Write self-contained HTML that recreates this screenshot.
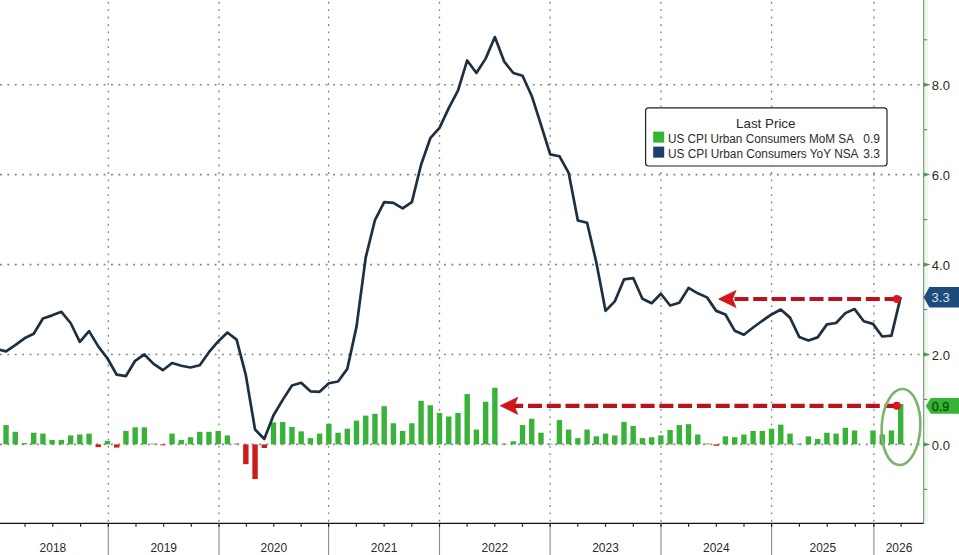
<!DOCTYPE html>
<html><head><meta charset="utf-8"><title>US CPI</title>
<style>
html,body{margin:0;padding:0;background:#fff;}
body{width:959px;height:555px;overflow:hidden;font-family:"Liberation Sans", sans-serif;}
svg{display:block;}
text{font-family:"Liberation Sans", sans-serif;}
</style></head>
<body>
<svg width="959" height="555" viewBox="0 0 959 555">
<rect width="959" height="555" fill="#fff"/>
<line x1="0" y1="84.7" x2="923" y2="84.7" stroke="#858585" stroke-width="1.6" stroke-dasharray="1.9 5.5"/>
<line x1="0" y1="174.6" x2="923" y2="174.6" stroke="#858585" stroke-width="1.6" stroke-dasharray="1.9 5.5"/>
<line x1="0" y1="264.6" x2="923" y2="264.6" stroke="#858585" stroke-width="1.6" stroke-dasharray="1.9 5.5"/>
<line x1="0" y1="354.5" x2="923" y2="354.5" stroke="#858585" stroke-width="1.6" stroke-dasharray="1.9 5.5"/>
<line x1="0" y1="444.4" x2="923" y2="444.4" stroke="#858585" stroke-width="1.6" stroke-dasharray="1.9 5.5"/>
<line x1="108.3" y1="-5.6" x2="108.3" y2="523" stroke="#858585" stroke-width="1.3" stroke-dasharray="1.9 5.5"/>
<line x1="219.0" y1="-5.6" x2="219.0" y2="523" stroke="#858585" stroke-width="1.3" stroke-dasharray="1.9 5.5"/>
<line x1="328.6" y1="-5.6" x2="328.6" y2="523" stroke="#858585" stroke-width="1.3" stroke-dasharray="1.9 5.5"/>
<line x1="439.5" y1="-5.6" x2="439.5" y2="523" stroke="#858585" stroke-width="1.3" stroke-dasharray="1.9 5.5"/>
<line x1="550.1" y1="-5.6" x2="550.1" y2="523" stroke="#858585" stroke-width="1.3" stroke-dasharray="1.9 5.5"/>
<line x1="661.0" y1="-5.6" x2="661.0" y2="523" stroke="#858585" stroke-width="1.3" stroke-dasharray="1.9 5.5"/>
<line x1="771.6" y1="-5.6" x2="771.6" y2="523" stroke="#858585" stroke-width="1.3" stroke-dasharray="1.9 5.5"/>
<line x1="873.9" y1="-5.6" x2="873.9" y2="523" stroke="#858585" stroke-width="1.3" stroke-dasharray="1.9 5.5"/>
<rect x="3.34" y="425.07" width="5.4" height="19.33" fill="#3ab23a"/>
<rect x="12.56" y="431.81" width="5.4" height="12.59" fill="#3ab23a"/>
<rect x="21.79" y="443.05" width="5.4" height="1.35" fill="#3ab23a"/>
<rect x="31.01" y="432.71" width="5.4" height="11.69" fill="#3ab23a"/>
<rect x="40.23" y="433.61" width="5.4" height="10.79" fill="#3ab23a"/>
<rect x="49.45" y="439.90" width="5.4" height="4.50" fill="#3ab23a"/>
<rect x="58.68" y="439.90" width="5.4" height="4.50" fill="#3ab23a"/>
<rect x="67.90" y="435.41" width="5.4" height="8.99" fill="#3ab23a"/>
<rect x="77.12" y="434.51" width="5.4" height="9.89" fill="#3ab23a"/>
<rect x="86.35" y="433.61" width="5.4" height="10.79" fill="#3ab23a"/>
<rect x="95.57" y="444.40" width="5.4" height="2.70" fill="#cc1b1b"/>
<rect x="104.79" y="440.80" width="5.4" height="3.60" fill="#3ab23a"/>
<rect x="114.02" y="444.40" width="5.4" height="3.15" fill="#cc1b1b"/>
<rect x="123.24" y="430.91" width="5.4" height="13.49" fill="#3ab23a"/>
<rect x="132.46" y="427.32" width="5.4" height="17.08" fill="#3ab23a"/>
<rect x="141.69" y="427.32" width="5.4" height="17.08" fill="#3ab23a"/>
<rect x="150.91" y="443.60" width="5.4" height="0.80" fill="#3ab23a"/>
<rect x="160.13" y="444.40" width="5.4" height="0.90" fill="#cc1b1b"/>
<rect x="169.35" y="433.61" width="5.4" height="10.79" fill="#3ab23a"/>
<rect x="178.58" y="439.90" width="5.4" height="4.50" fill="#3ab23a"/>
<rect x="187.80" y="437.21" width="5.4" height="7.19" fill="#3ab23a"/>
<rect x="197.02" y="431.81" width="5.4" height="12.59" fill="#3ab23a"/>
<rect x="206.25" y="431.81" width="5.4" height="12.59" fill="#3ab23a"/>
<rect x="215.47" y="430.91" width="5.4" height="13.49" fill="#3ab23a"/>
<rect x="224.69" y="435.41" width="5.4" height="8.99" fill="#3ab23a"/>
<rect x="233.92" y="443.50" width="5.4" height="0.90" fill="#3ab23a"/>
<rect x="243.14" y="444.40" width="5.4" height="19.78" fill="#cc1b1b"/>
<rect x="252.36" y="444.40" width="5.4" height="34.62" fill="#cc1b1b"/>
<rect x="261.58" y="444.40" width="5.4" height="3.60" fill="#cc1b1b"/>
<rect x="270.81" y="422.37" width="5.4" height="22.03" fill="#3ab23a"/>
<rect x="280.03" y="421.92" width="5.4" height="22.48" fill="#3ab23a"/>
<rect x="289.25" y="426.87" width="5.4" height="17.53" fill="#3ab23a"/>
<rect x="298.48" y="431.36" width="5.4" height="13.04" fill="#3ab23a"/>
<rect x="307.70" y="438.11" width="5.4" height="6.29" fill="#3ab23a"/>
<rect x="316.92" y="433.61" width="5.4" height="10.79" fill="#3ab23a"/>
<rect x="326.15" y="423.72" width="5.4" height="20.68" fill="#3ab23a"/>
<rect x="335.37" y="432.71" width="5.4" height="11.69" fill="#3ab23a"/>
<rect x="344.59" y="428.66" width="5.4" height="15.74" fill="#3ab23a"/>
<rect x="353.81" y="420.57" width="5.4" height="23.83" fill="#3ab23a"/>
<rect x="363.04" y="415.63" width="5.4" height="28.77" fill="#3ab23a"/>
<rect x="372.26" y="413.83" width="5.4" height="30.57" fill="#3ab23a"/>
<rect x="381.48" y="406.18" width="5.4" height="38.22" fill="#3ab23a"/>
<rect x="390.71" y="423.27" width="5.4" height="21.13" fill="#3ab23a"/>
<rect x="399.93" y="430.91" width="5.4" height="13.49" fill="#3ab23a"/>
<rect x="409.15" y="423.27" width="5.4" height="21.13" fill="#3ab23a"/>
<rect x="418.38" y="400.79" width="5.4" height="43.61" fill="#3ab23a"/>
<rect x="427.60" y="405.28" width="5.4" height="39.12" fill="#3ab23a"/>
<rect x="436.82" y="412.93" width="5.4" height="31.47" fill="#3ab23a"/>
<rect x="446.04" y="416.52" width="5.4" height="27.88" fill="#3ab23a"/>
<rect x="455.27" y="412.93" width="5.4" height="31.47" fill="#3ab23a"/>
<rect x="464.49" y="394.04" width="5.4" height="50.36" fill="#3ab23a"/>
<rect x="473.71" y="429.56" width="5.4" height="14.84" fill="#3ab23a"/>
<rect x="482.94" y="401.69" width="5.4" height="42.71" fill="#3ab23a"/>
<rect x="492.16" y="387.75" width="5.4" height="56.65" fill="#3ab23a"/>
<rect x="501.38" y="443.60" width="5.4" height="0.80" fill="#3ab23a"/>
<rect x="510.61" y="441.25" width="5.4" height="3.15" fill="#3ab23a"/>
<rect x="519.83" y="425.07" width="5.4" height="19.33" fill="#3ab23a"/>
<rect x="529.05" y="418.77" width="5.4" height="25.63" fill="#3ab23a"/>
<rect x="538.27" y="432.71" width="5.4" height="11.69" fill="#3ab23a"/>
<rect x="547.50" y="443.60" width="5.4" height="0.80" fill="#3ab23a"/>
<rect x="556.72" y="420.12" width="5.4" height="24.28" fill="#3ab23a"/>
<rect x="565.94" y="429.56" width="5.4" height="14.84" fill="#3ab23a"/>
<rect x="575.17" y="438.11" width="5.4" height="6.29" fill="#3ab23a"/>
<rect x="584.39" y="429.56" width="5.4" height="14.84" fill="#3ab23a"/>
<rect x="593.61" y="436.31" width="5.4" height="8.09" fill="#3ab23a"/>
<rect x="602.83" y="433.61" width="5.4" height="10.79" fill="#3ab23a"/>
<rect x="612.06" y="435.41" width="5.4" height="8.99" fill="#3ab23a"/>
<rect x="621.28" y="421.92" width="5.4" height="22.48" fill="#3ab23a"/>
<rect x="630.50" y="425.97" width="5.4" height="18.43" fill="#3ab23a"/>
<rect x="639.73" y="438.11" width="5.4" height="6.29" fill="#3ab23a"/>
<rect x="648.95" y="437.21" width="5.4" height="7.19" fill="#3ab23a"/>
<rect x="658.17" y="435.41" width="5.4" height="8.99" fill="#3ab23a"/>
<rect x="667.40" y="430.01" width="5.4" height="14.39" fill="#3ab23a"/>
<rect x="676.62" y="425.07" width="5.4" height="19.33" fill="#3ab23a"/>
<rect x="685.84" y="424.17" width="5.4" height="20.23" fill="#3ab23a"/>
<rect x="695.06" y="434.51" width="5.4" height="9.89" fill="#3ab23a"/>
<rect x="704.29" y="443.50" width="5.4" height="0.90" fill="#3ab23a"/>
<rect x="713.51" y="444.40" width="5.4" height="1.35" fill="#cc1b1b"/>
<rect x="722.73" y="436.31" width="5.4" height="8.09" fill="#3ab23a"/>
<rect x="731.96" y="437.21" width="5.4" height="7.19" fill="#3ab23a"/>
<rect x="741.18" y="434.51" width="5.4" height="9.89" fill="#3ab23a"/>
<rect x="750.40" y="430.91" width="5.4" height="13.49" fill="#3ab23a"/>
<rect x="759.63" y="430.91" width="5.4" height="13.49" fill="#3ab23a"/>
<rect x="768.85" y="428.66" width="5.4" height="15.74" fill="#3ab23a"/>
<rect x="778.07" y="424.62" width="5.4" height="19.78" fill="#3ab23a"/>
<rect x="787.29" y="433.61" width="5.4" height="10.79" fill="#3ab23a"/>
<rect x="796.52" y="443.60" width="5.4" height="0.80" fill="#3ab23a"/>
<rect x="805.74" y="436.31" width="5.4" height="8.09" fill="#3ab23a"/>
<rect x="814.96" y="439.00" width="5.4" height="5.40" fill="#3ab23a"/>
<rect x="824.19" y="432.71" width="5.4" height="11.69" fill="#3ab23a"/>
<rect x="833.41" y="433.61" width="5.4" height="10.79" fill="#3ab23a"/>
<rect x="842.63" y="427.76" width="5.4" height="16.64" fill="#3ab23a"/>
<rect x="851.86" y="430.46" width="5.4" height="13.94" fill="#3ab23a"/>
<rect x="870.30" y="430.46" width="5.4" height="13.94" fill="#3ab23a"/>
<rect x="879.52" y="434.51" width="5.4" height="9.89" fill="#3ab23a"/>
<rect x="888.75" y="430.46" width="5.4" height="13.94" fill="#3ab23a"/>
<rect x="897.97" y="403.94" width="5.4" height="40.46" fill="#3ab23a"/>
<polyline points="-3.18,349.08 6.04,351.33 15.26,345.04 24.49,338.29 33.71,333.80 42.93,318.51 52.16,315.36 61.38,311.77 70.60,323.01 79.82,341.89 89.05,331.10 98.27,346.39 107.49,358.53 116.72,374.71 125.94,376.06 135.16,360.77 144.38,354.48 153.61,363.92 162.83,370.22 172.05,363.02 181.28,365.72 190.50,367.52 199.72,365.27 208.95,352.23 218.17,341.44 227.39,332.45 236.62,339.64 245.84,375.16 255.06,429.56 264.28,439.00 273.51,415.18 282.73,399.89 291.95,385.50 301.18,382.80 310.40,391.35 319.62,391.80 328.85,383.25 338.07,381.46 347.29,368.87 356.51,326.60 365.74,257.37 374.96,220.05 384.18,202.07 393.41,202.96 402.63,208.36 411.85,202.07 421.08,164.75 430.30,138.22 439.52,127.88 448.74,108.10 457.97,90.56 467.19,60.44 476.41,73.03 485.64,58.64 494.86,37.06 504.08,61.34 513.31,73.03 522.53,75.73 531.75,95.96 540.97,124.73 550.20,154.41 559.42,156.21 568.64,172.84 577.87,220.50 587.09,222.75 596.31,262.31 605.53,310.87 614.76,301.43 623.98,279.40 633.20,278.05 642.43,298.73 651.65,303.23 660.87,293.78 670.10,305.47 679.32,302.78 688.54,287.94 697.76,293.33 706.99,297.38 716.21,310.87 725.43,314.47 734.66,330.65 743.88,334.70 753.10,327.50 762.33,320.76 771.55,314.47 780.77,309.52 790.00,317.61 799.22,336.95 808.44,340.54 817.66,337.40 826.89,324.36 836.11,323.01 845.33,313.12 854.56,309.07 863.78,321.21 873.00,323.91 882.23,336.50 891.45,335.60 900.67,296.93" fill="none" stroke="#1d3042" stroke-width="2.7" stroke-linejoin="round"/>
<line x1="898.6" y1="299" x2="732.5" y2="299" stroke="#b9141e" stroke-width="4.2" stroke-dasharray="14 4.77"/><path d="M718.5,299 L736.1,290.4 L732.5,299 L736.1,307.6 Z" fill="#d8141a" stroke="#a01018" stroke-width="0.6"/><circle cx="896.8" cy="299" r="4" fill="#e0141a"/>
<line x1="898.6" y1="405.8" x2="514.2" y2="405.8" stroke="#b9141e" stroke-width="4.2" stroke-dasharray="14 4.77"/><path d="M500.2,405.8 L517.8,397.2 L514.2,405.8 L517.8,414.40000000000003 Z" fill="#d8141a" stroke="#a01018" stroke-width="0.6"/><circle cx="896.8" cy="405.8" r="4" fill="#e0141a"/>
<ellipse cx="901" cy="427" rx="19.3" ry="38" fill="none" stroke="#7cb26c" stroke-width="2.6" transform="rotate(3 901 427)"/>
<line x1="0" y1="523.4" x2="924" y2="523.4" stroke="#111" stroke-width="1.3"/>
<line x1="108.3" y1="523" x2="108.3" y2="555" stroke="#8c8c8c" stroke-width="1.1"/>
<line x1="108.3" y1="523" x2="108.3" y2="527" stroke="#222" stroke-width="1.2"/>
<line x1="219.0" y1="523" x2="219.0" y2="555" stroke="#8c8c8c" stroke-width="1.1"/>
<line x1="219.0" y1="523" x2="219.0" y2="527" stroke="#222" stroke-width="1.2"/>
<line x1="328.6" y1="523" x2="328.6" y2="555" stroke="#8c8c8c" stroke-width="1.1"/>
<line x1="328.6" y1="523" x2="328.6" y2="527" stroke="#222" stroke-width="1.2"/>
<line x1="439.5" y1="523" x2="439.5" y2="555" stroke="#8c8c8c" stroke-width="1.1"/>
<line x1="439.5" y1="523" x2="439.5" y2="527" stroke="#222" stroke-width="1.2"/>
<line x1="550.1" y1="523" x2="550.1" y2="555" stroke="#8c8c8c" stroke-width="1.1"/>
<line x1="550.1" y1="523" x2="550.1" y2="527" stroke="#222" stroke-width="1.2"/>
<line x1="661.0" y1="523" x2="661.0" y2="555" stroke="#8c8c8c" stroke-width="1.1"/>
<line x1="661.0" y1="523" x2="661.0" y2="527" stroke="#222" stroke-width="1.2"/>
<line x1="771.6" y1="523" x2="771.6" y2="555" stroke="#8c8c8c" stroke-width="1.1"/>
<line x1="771.6" y1="523" x2="771.6" y2="527" stroke="#222" stroke-width="1.2"/>
<line x1="873.9" y1="523" x2="873.9" y2="555" stroke="#8c8c8c" stroke-width="1.1"/>
<line x1="873.9" y1="523" x2="873.9" y2="527" stroke="#222" stroke-width="1.2"/>
<line x1="25.1" y1="523" x2="25.1" y2="526.8" stroke="#222" stroke-width="1.2"/>
<line x1="52.8" y1="523" x2="52.8" y2="526.8" stroke="#222" stroke-width="1.2"/>
<line x1="80.6" y1="523" x2="80.6" y2="526.8" stroke="#222" stroke-width="1.2"/>
<line x1="136.0" y1="523" x2="136.0" y2="526.8" stroke="#222" stroke-width="1.2"/>
<line x1="163.7" y1="523" x2="163.7" y2="526.8" stroke="#222" stroke-width="1.2"/>
<line x1="191.3" y1="523" x2="191.3" y2="526.8" stroke="#222" stroke-width="1.2"/>
<line x1="246.4" y1="523" x2="246.4" y2="526.8" stroke="#222" stroke-width="1.2"/>
<line x1="273.8" y1="523" x2="273.8" y2="526.8" stroke="#222" stroke-width="1.2"/>
<line x1="301.2" y1="523" x2="301.2" y2="526.8" stroke="#222" stroke-width="1.2"/>
<line x1="356.3" y1="523" x2="356.3" y2="526.8" stroke="#222" stroke-width="1.2"/>
<line x1="384.1" y1="523" x2="384.1" y2="526.8" stroke="#222" stroke-width="1.2"/>
<line x1="411.8" y1="523" x2="411.8" y2="526.8" stroke="#222" stroke-width="1.2"/>
<line x1="467.1" y1="523" x2="467.1" y2="526.8" stroke="#222" stroke-width="1.2"/>
<line x1="494.8" y1="523" x2="494.8" y2="526.8" stroke="#222" stroke-width="1.2"/>
<line x1="522.5" y1="523" x2="522.5" y2="526.8" stroke="#222" stroke-width="1.2"/>
<line x1="577.8" y1="523" x2="577.8" y2="526.8" stroke="#222" stroke-width="1.2"/>
<line x1="605.5" y1="523" x2="605.5" y2="526.8" stroke="#222" stroke-width="1.2"/>
<line x1="633.3" y1="523" x2="633.3" y2="526.8" stroke="#222" stroke-width="1.2"/>
<line x1="688.6" y1="523" x2="688.6" y2="526.8" stroke="#222" stroke-width="1.2"/>
<line x1="716.3" y1="523" x2="716.3" y2="526.8" stroke="#222" stroke-width="1.2"/>
<line x1="744.0" y1="523" x2="744.0" y2="526.8" stroke="#222" stroke-width="1.2"/>
<line x1="799.4" y1="523" x2="799.4" y2="526.8" stroke="#222" stroke-width="1.2"/>
<line x1="827.2" y1="523" x2="827.2" y2="526.8" stroke="#222" stroke-width="1.2"/>
<line x1="855.3" y1="523" x2="855.3" y2="526.8" stroke="#222" stroke-width="1.2"/>
<line x1="901.1" y1="523" x2="901.1" y2="526.8" stroke="#222" stroke-width="1.2"/>
<text x="52.9" y="552" text-anchor="middle" font-size="12.8" fill="#2a2a2a" textLength="26.6" lengthAdjust="spacingAndGlyphs">2018</text>
<text x="163.7" y="552" text-anchor="middle" font-size="12.8" fill="#2a2a2a" textLength="26.6" lengthAdjust="spacingAndGlyphs">2019</text>
<text x="273.8" y="552" text-anchor="middle" font-size="12.8" fill="#2a2a2a" textLength="26.6" lengthAdjust="spacingAndGlyphs">2020</text>
<text x="384.1" y="552" text-anchor="middle" font-size="12.8" fill="#2a2a2a" textLength="26.6" lengthAdjust="spacingAndGlyphs">2021</text>
<text x="494.8" y="552" text-anchor="middle" font-size="12.8" fill="#2a2a2a" textLength="26.6" lengthAdjust="spacingAndGlyphs">2022</text>
<text x="605.5" y="552" text-anchor="middle" font-size="12.8" fill="#2a2a2a" textLength="26.6" lengthAdjust="spacingAndGlyphs">2023</text>
<text x="716.3" y="552" text-anchor="middle" font-size="12.8" fill="#2a2a2a" textLength="26.6" lengthAdjust="spacingAndGlyphs">2024</text>
<text x="822.8" y="552" text-anchor="middle" font-size="12.8" fill="#2a2a2a" textLength="26.6" lengthAdjust="spacingAndGlyphs">2025</text>
<text x="899.0" y="552" text-anchor="middle" font-size="12.8" fill="#2a2a2a" textLength="26.6" lengthAdjust="spacingAndGlyphs">2026</text>
<rect x="924.2" y="0" width="4" height="523" fill="#eef8ee"/>
<line x1="923.6" y1="0" x2="923.6" y2="523.4" stroke="#86a086" stroke-width="1.3"/>
<line x1="923.6" y1="39.8" x2="927.2" y2="39.8" stroke="#777" stroke-width="1.1"/>
<line x1="923.6" y1="129.7" x2="927.2" y2="129.7" stroke="#777" stroke-width="1.1"/>
<line x1="923.6" y1="219.6" x2="927.2" y2="219.6" stroke="#777" stroke-width="1.1"/>
<line x1="923.6" y1="309.5" x2="927.2" y2="309.5" stroke="#777" stroke-width="1.1"/>
<line x1="923.6" y1="399.4" x2="927.2" y2="399.4" stroke="#777" stroke-width="1.1"/>
<line x1="923.6" y1="489.4" x2="927.2" y2="489.4" stroke="#777" stroke-width="1.1"/>
<path d="M923.6,82.5 L930.5,84.7 L923.6,86.9 Z" fill="#4c9a4c"/>
<text x="931.8" y="89.8" font-size="13" fill="#2a2a2a">8.0</text>
<path d="M923.6,172.4 L930.5,174.6 L923.6,176.8 Z" fill="#4c9a4c"/>
<text x="931.8" y="179.7" font-size="13" fill="#2a2a2a">6.0</text>
<path d="M923.6,262.4 L930.5,264.6 L923.6,266.8 Z" fill="#4c9a4c"/>
<text x="931.8" y="269.7" font-size="13" fill="#2a2a2a">4.0</text>
<path d="M923.6,352.3 L930.5,354.5 L923.6,356.7 Z" fill="#4c9a4c"/>
<text x="931.8" y="359.6" font-size="13" fill="#2a2a2a">2.0</text>
<path d="M923.6,442.2 L930.5,444.4 L923.6,446.6 Z" fill="#4c9a4c"/>
<text x="931.8" y="449.5" font-size="13" fill="#2a2a2a">0.0</text>
<path d="M923.7,297.3 L929.4,287.1 L959,287.1 L959,307.5 L929.4,307.5 Z" fill="#1f4a7c"/>
<text x="931.6" y="302.2" font-size="13" fill="#d6e4f2">3.3</text>
<path d="M925.8,405.9 L930.8,398.1 L959,398.1 L959,413.8 L930.8,413.8 Z" fill="#36b436"/>
<text x="931.8" y="410.6" font-size="12.6" fill="#0b4f0b" stroke="#0b4f0b" stroke-width="0.35">0.9</text>
<rect x="645.6" y="107.8" width="241.4" height="58.2" rx="3" fill="#fff" stroke="#222" stroke-width="1.2"/>
<text x="736" y="127.6" font-size="13" fill="#2a2a2a" textLength="59.5" lengthAdjust="spacingAndGlyphs">Last Price</text>
<rect x="653.2" y="131.6" width="11" height="11" fill="#33b533"/>
<rect x="653.2" y="146.6" width="11" height="11" fill="#1d3d6a"/>
<text x="668" y="142.7" font-size="12" fill="#2a2a2a" textLength="186" lengthAdjust="spacingAndGlyphs">US CPI Urban Consumers MoM SA</text>
<text x="668" y="157.7" font-size="12" fill="#2a2a2a" textLength="190.5" lengthAdjust="spacingAndGlyphs">US CPI Urban Consumers YoY NSA</text>
<text x="880" y="142.7" text-anchor="end" font-size="12" fill="#2a2a2a">0.9</text>
<text x="880" y="157.7" text-anchor="end" font-size="12" fill="#2a2a2a">3.3</text>
</svg>
</body></html>
